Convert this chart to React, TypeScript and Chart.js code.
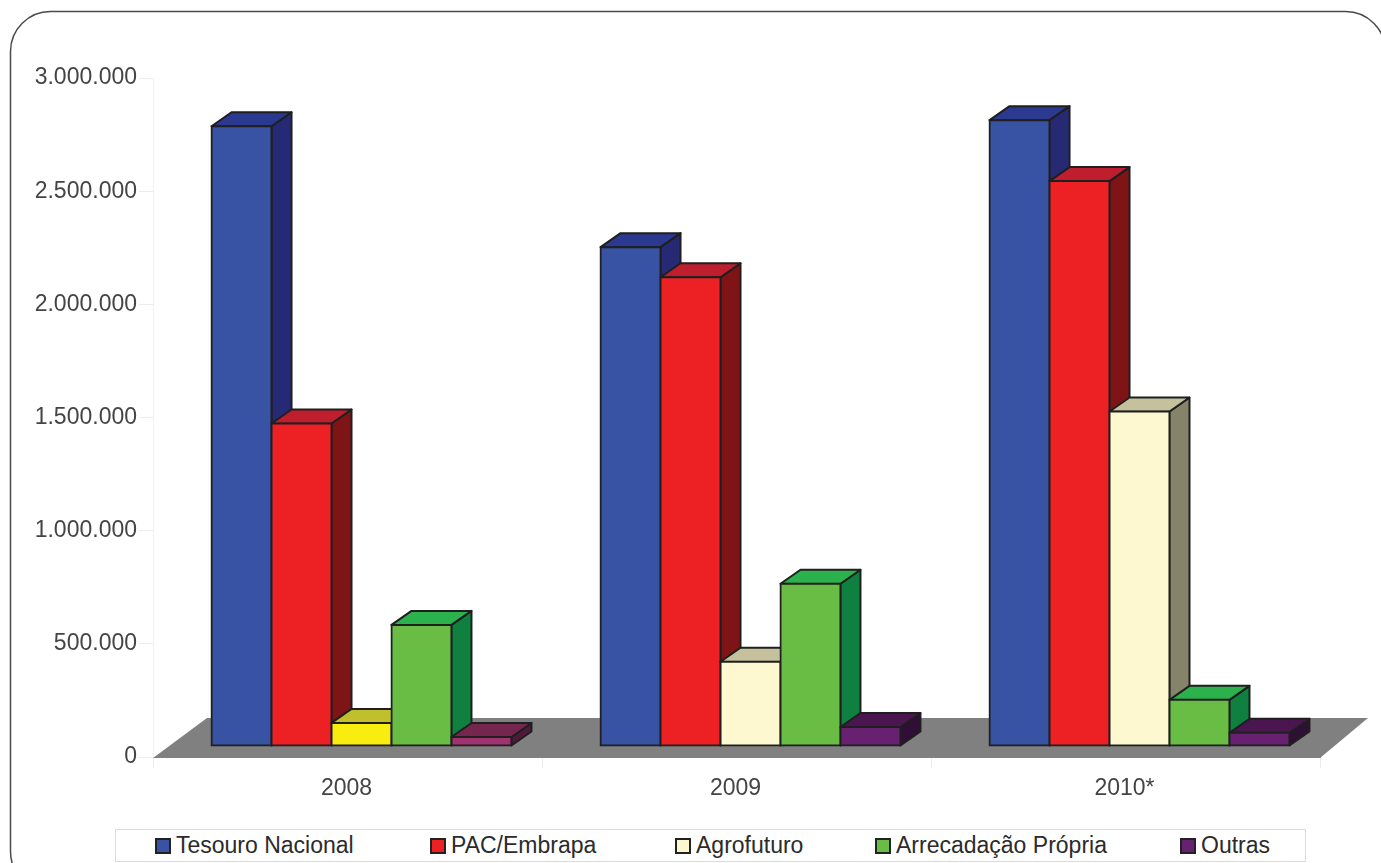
import React, { useEffect, useRef } from "react";
import { Chart, registerables } from "chart.js";

Chart.register(...registerables);

const YEARS = ["2008", "2009", "2010*"];
const TESOURO = [2738000, 2204000, 2765000];
const PAC = [1425000, 2071000, 2496000];
const AGROFUTURO = [102000, 372000, 1478000];
const ARRECADACAO = [535000, 717000, 204000];
const OUTRAS = [40000, 84000, 58000];

const SERIES_NAMES = ["Tesouro Nacional", "PAC/Embrapa", "Agrofuturo", "Arrecadação Própria", "Outras"];
const SERIES_VALUES = [TESOURO, PAC, AGROFUTURO, ARRECADACAO, OUTRAS];

// Face colours per series, one entry per year; the 2008 bars of the last two
// visible series use their own hues.
const LEGEND_COLORS = ["#3953a4", "#ed2024", "#fdf8d0", "#69bd45", "#682170"];
const LEGEND_LEFT = [40, 315, 560, 760, 1065];
const FRONT = [
  ["#3953a4", "#3953a4", "#3953a4"],
  ["#ed2024", "#ed2024", "#ed2024"],
  ["#f9ed10", "#fdf8d0", "#fdf8d0"],
  ["#69bd45", "#69bd45", "#69bd45"],
  ["#a0336f", "#682170", "#682170"],
];
const TOP = [
  ["#2b3990", "#2b3990", "#2b3990"],
  ["#be1e2d", "#be1e2d", "#be1e2d"],
  ["#c2bf2e", "#c4c19c", "#c4c19c"],
  ["#2bb24c", "#2bb24c", "#2bb24c"],
  ["#74264f", "#4b1650", "#4b1650"],
];
const SIDE = [
  ["#262a75", "#262a75", "#262a75"],
  ["#7f1416", "#7f1416", "#7f1416"],
  ["#85846a", "#85846a", "#85846a"],
  ["#0f8040", "#0f8040", "#0f8040"],
  ["#4f1a3a", "#2f0f35", "#2f0f35"],
];

const OUTLINE = "#1f1f1f";
const FONT = '"Liberation Sans", Arial, sans-serif';
const DEPTH_X = 20;
const DEPTH_Y = 14;
const BAR_SHIFT_X = 14;
const BAR_SHIFT_Y = -11;

const formatThousands = (v: number) => String(v).replace(/\B(?=(\d{3})+(?!\d))/g, ".");

function poly(ctx: CanvasRenderingContext2D, pts: number[][], fill: string) {
  ctx.beginPath();
  pts.forEach(([x, y], i) => (i ? ctx.lineTo(x, y) : ctx.moveTo(x, y)));
  ctx.closePath();
  ctx.fillStyle = fill;
  ctx.fill();
  ctx.strokeStyle = OUTLINE;
  ctx.lineWidth = 2;
  ctx.lineJoin = "round";
  ctx.stroke();
}

// Rounded frame around the whole figure and the grey floor under the bars.
const backdrop = {
  id: "backdrop",
  beforeDatasetsDraw(chart: any) {
    const { ctx, chartArea: a } = chart;
    ctx.save();
    ctx.beginPath();
    ctx.roundRect(10.5, 11.5, 1375, 880, 40);
    ctx.strokeStyle = "#4a4a4a";
    ctx.lineWidth = 1.5;
    ctx.stroke();

    ctx.beginPath();
    ctx.moveTo(a.left, a.bottom + 1);
    ctx.lineTo(a.right, a.bottom + 1);
    ctx.lineTo(a.right + 48, a.bottom - 39);
    ctx.lineTo(a.left + 54, a.bottom - 39);
    ctx.closePath();
    ctx.fillStyle = "#808080";
    ctx.fill();
    ctx.restore();
  },
};

// Extrudes every bar and paints the series from left to right, so each front
// face covers the side of the bar before it.
const extruded = {
  id: "extruded",
  beforeDatasetsDraw(chart: any) {
    const { ctx } = chart;
    ctx.save();
    ctx.translate(BAR_SHIFT_X, BAR_SHIFT_Y);
    SERIES_VALUES.forEach((_, s) => {
      chart.getDatasetMeta(s).data.forEach((bar: any, i: number) => {
        const { x, y, base, width } = bar.getProps(["x", "y", "base", "width"], true);
        const l = x - width / 2;
        const r = x + width / 2;
        poly(ctx, [[r, y], [r + DEPTH_X, y - DEPTH_Y], [r + DEPTH_X, base - DEPTH_Y], [r, base]], SIDE[s][i]);
        poly(ctx, [[l, y], [l + DEPTH_X, y - DEPTH_Y], [r + DEPTH_X, y - DEPTH_Y], [r, y]], TOP[s][i]);
        bar.draw(ctx);
      });
    });
    ctx.restore();
    return false;
  },
};

export default function App() {
  const canvasRef = useRef<HTMLCanvasElement>(null);

  useEffect(() => {
    document.body.style.margin = "0";
    const chart = new Chart(canvasRef.current as HTMLCanvasElement, {
      type: "bar",
      data: {
        labels: YEARS,
        datasets: SERIES_NAMES.map((label, s) => ({
          label,
          data: SERIES_VALUES[s],
          backgroundColor: FRONT[s],
          borderColor: OUTLINE,
          borderWidth: 2,
          borderSkipped: false,
          inflateAmount: 1,
          categoryPercentage: 0.771,
          barPercentage: 1,
        })),
      },
      options: {
        animation: false,
        responsive: false,
        layout: { padding: { top: 78, right: 61, left: 0, bottom: 0 } },
        plugins: { legend: { display: false }, tooltip: { enabled: false } },
        scales: {
          x: {
            afterFit: (scale: any) => {
              scale.height = 106;
            },
            grid: { drawOnChartArea: false, tickLength: 11, tickColor: "#ececec", offset: true },
            border: { color: "#808080" },
            ticks: {
              color: "#444444",
              font: { family: FONT, size: 23 },
              padding: 7,
              labelOffset: -1,
              maxRotation: 0,
            },
          },
          y: {
            min: 0,
            max: 3000000,
            afterFit: (scale: any) => {
              scale.width = 153;
            },
            grid: { drawOnChartArea: false, tickLength: 14, tickColor: "#ececec" },
            border: { color: "#f2f2f2" },
            ticks: {
              stepSize: 500000,
              color: "#444444",
              font: { family: FONT, size: 23 },
              padding: 2,
              callback: (v: any) => formatThousands(Number(v)),
            },
          },
        },
      },
      plugins: [backdrop, extruded],
    } as any);
    return () => chart.destroy();
  }, []);

  return (
    <div style={{ position: "relative", width: 1381, height: 863, overflow: "hidden" }}>
      <canvas ref={canvasRef} width={1381} height={863} style={{ display: "block" }} />
      <div
        style={{
          position: "absolute",
          left: 115,
          top: 829,
          width: 1191,
          height: 33,
          border: "1px solid #dcdcdc",
          background: "#fff",
          boxSizing: "border-box",
          fontFamily: FONT,
          fontSize: 23,
          color: "#2b2b2b",
        }}
      >
        {SERIES_NAMES.map((name, s) => (
          <span
            key={name}
            style={{
              position: "absolute",
              left: LEGEND_LEFT[s] - 1,
              top: 0,
              height: 31,
              display: "flex",
              alignItems: "center",
              gap: 5,
              whiteSpace: "nowrap",
            }}
          >
            <span
              style={{
                width: 16,
                height: 16,
                boxSizing: "border-box",
                border: "2px solid #222",
                background: LEGEND_COLORS[s],
              }}
            />
            {name}
          </span>
        ))}
      </div>
    </div>
  );
}
